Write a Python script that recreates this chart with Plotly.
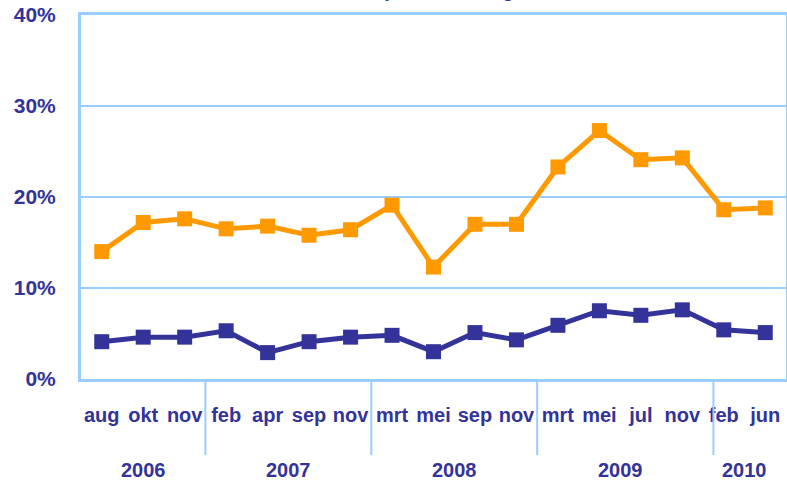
import plotly.graph_objects as go

months = ["aug", "okt", "nov", "feb", "apr", "sep", "nov", "mrt", "mei", "sep", "nov",
          "mrt", "mei", "jul", "nov", "feb", "jun"]
years = [2006, 2006, 2006, 2007, 2007, 2007, 2007, 2008, 2008, 2008, 2008,
         2009, 2009, 2009, 2009, 2010, 2010]
orange_vals = [14.0, 17.2, 17.6, 16.5, 16.8, 15.8, 16.4, 19.1, 12.3, 17.0, 17.0,
               23.3, 27.3, 24.1, 24.3, 18.6, 18.8]
blue_vals = [4.1, 4.6, 4.6, 5.3, 2.9, 4.1, 4.6, 4.8, 3.0, 5.1, 4.3,
             5.9, 7.5, 7.0, 7.6, 5.4, 5.1]
y_ticks = [0, 10, 20, 30, 40]
y_ticklabels = ["0%", "10%", "20%", "30%", "40%"]
year_labels = ["2006", "2007", "2008", "2009", "2010"]
title_text = "Armoede per bevolking"

cats = [f"{m} {y}" for m, y in zip(months, years)]

BLUE = "#333399"
ORANGE = "#FF9900"
GRID = "#99CCFF"
FONT = "Liberation Sans, Arial, sans-serif"

fig = go.Figure()
fig.add_trace(go.Scatter(x=cats, y=orange_vals, mode="lines+markers",
                         line=dict(color=ORANGE, width=5),
                         marker=dict(symbol="square", size=15, color=ORANGE),
                         showlegend=False, hoverinfo="skip"))
fig.add_trace(go.Scatter(x=cats, y=blue_vals, mode="lines+markers",
                         line=dict(color=BLUE, width=5),
                         marker=dict(symbol="square", size=15, color=BLUE),
                         showlegend=False, hoverinfo="skip"))

# year group labels and dividers
groups = {}
for i, y in enumerate(years):
    groups.setdefault(y, []).append(i)
for lab, (y, idx) in zip(year_labels, groups.items()):
    center = (idx[0] + idx[-1]) / 2
    fig.add_annotation(x=center, y=-0.25, xref="x", yref="paper", text=f"<b>{lab}</b>",
                       showarrow=False, font=dict(family=FONT, size=20, color=BLUE),
                       yanchor="middle")
divider_pos = [2.5, 6.5, 10.5, 14.75]
for d in divider_pos:
    fig.add_shape(type="line", xref="x", yref="paper", x0=d, x1=d, y0=0, y1=-0.209,
                  line=dict(color=GRID, width=2))

fig.add_annotation(x=0.298, y=1.035, xref="paper", yref="paper", xanchor="left",
                   yanchor="bottom", text=f"<b>{title_text}</b>", showarrow=False,
                   font=dict(family=FONT, size=20, color=BLUE), borderpad=0)

fig.update_layout(
    width=787, height=482,
    margin=dict(l=81, r=1, t=15, b=103),
    paper_bgcolor="white", plot_bgcolor="white",
    font=dict(family=FONT, color=BLUE, size=20),
)
fig.update_xaxes(type="category", range=[-0.5, 16.5], tickvals=cats,
                 ticktext=[f"<b>{m}</b>" for m in months], automargin=False,
                 showgrid=False, showline=True, linecolor=GRID, linewidth=3, mirror=True,
                 ticks="", ticklabelstandoff=16, tickfont=dict(family=FONT, size=20, color=BLUE),
                 zeroline=False)
fig.update_yaxes(range=[0, 40], tickvals=y_ticks, automargin=False,
                 ticktext=[f"<b>{t}</b>" for t in y_ticklabels],
                 showgrid=True, gridcolor=GRID, gridwidth=2,
                 showline=True, linecolor=GRID, linewidth=3, mirror=True,
                 ticks="", ticklabelstandoff=18, tickfont=dict(family=FONT, size=21, color=BLUE),
                 zeroline=False)

fig.write_html("out.html", config={"responsive": False, "displayModeBar": False},
               post_script="document.body.style.margin='0';document.body.style.overflow='hidden';")
